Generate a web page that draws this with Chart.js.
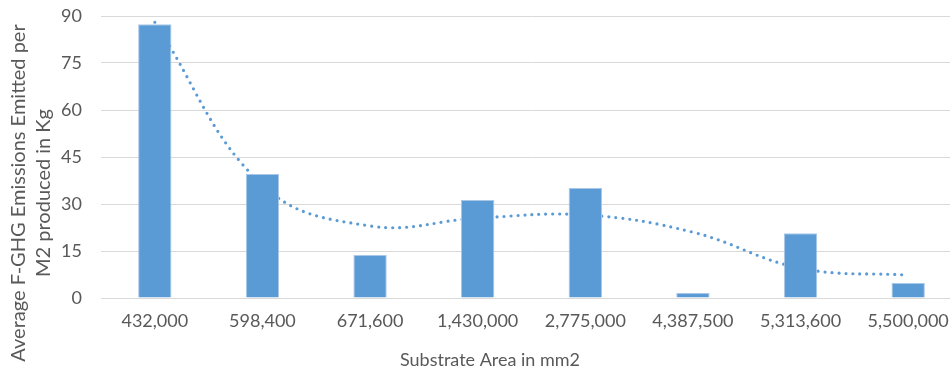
<!DOCTYPE html>
<html>
<head>
<meta charset="utf-8">
<script src="https://cdn.jsdelivr.net/npm/chart.js@4"></script>
<style>
  html, body { margin: 0; padding: 0; background: #fff; overflow: hidden; }
  #wrap { width: 950px; height: 368px; overflow: hidden; }
</style>
</head>
<body>
<div id="wrap"><canvas id="myChart" width="970" height="368"></canvas></div>
<script>
// values
const categories = ['432,000', '598,400', '671,600', '1,430,000', '2,775,000', '4,387,500', '5,313,600', '5,500,000']
const emissions = [87.4, 39.6, 13.7, 31.3, 35.1, 1.6, 20.7, 4.8]
const trend = [88, 36, 23, 25.5, 26.5, 21, 9.5, 7.3]
const yMin = 0
const yMax = 90
const yStep = 15
const xTitle = 'Substrate Area in mm2'
const yTitle = ['Average F-GHG Emissions Emitted per', 'M2 produced in Kg']

const textColor = '#595959'
const barColor = '#5B9BD5'
const gridColor = '#d9d9d9'
const fontFamily = 'Lato, "Open Sans", sans-serif'

// axis titles sit off-centre in the original, so draw them ourselves
const axisTitles = {
    id: 'axisTitles',
    afterDraw(chart) {
        const ctx = chart.ctx
        ctx.save()
        ctx.fillStyle = textColor
        ctx.textAlign = 'center'
        ctx.textBaseline = 'alphabetic'
        ctx.font = '18px ' + fontFamily
        ctx.fillText(xTitle, 490, 366)
        ctx.font = '20px ' + fontFamily
        ctx.translate(0, 193)
        ctx.rotate(-Math.PI / 2)
        ctx.fillText(yTitle[0], 0, 25)
        ctx.fillText(yTitle[1], 0, 50)
        ctx.restore()
    }
}

const chart_data = {
    labels: categories,
    datasets: [{
        type: 'bar',
        data: emissions,
        backgroundColor: barColor,
        borderColor: '#a9c8e8',
        borderWidth: 1,
        barPercentage: 0.31,
        categoryPercentage: 1,
        order: 1
    }, {
        type: 'line',
        data: trend,
        borderColor: barColor,
        borderWidth: 3.2,
        borderDash: [0, 7],
        borderCapStyle: 'round',
        tension: 0.4,
        pointRadius: 0,
        fill: false,
        order: 2
    }]
}

const config = {
    type: 'bar',
    data: chart_data,
    options: {
        responsive: false,
        animation: false,
        devicePixelRatio: 1,
        layout: { padding: { top: 16, right: 8, left: 0, bottom: 0 } },
        plugins: {
            legend: { display: false },
            tooltip: { enabled: false }
        },
        scales: {
            x: {
                grid: { display: false, drawTicks: false },
                border: { display: true, color: gridColor, width: 1 },
                ticks: {
                    color: textColor,
                    font: { family: fontFamily, size: 18 },
                    padding: 12,
                    maxRotation: 0,
                    autoSkip: false
                },
                afterFit: scale => { scale.height = 70 }
            },
            y: {
                min: yMin,
                max: yMax,
                grid: { color: gridColor, drawTicks: false },
                border: { display: false },
                ticks: {
                    stepSize: yStep,
                    color: textColor,
                    font: { family: fontFamily, size: 18 },
                    padding: 19
                },
                afterFit: scale => {
                    scale.width = 101
                    scale.paddingTop = 0
                    scale.paddingBottom = 0
                }
            }
        }
    },
    plugins: [axisTitles]
}

const myChart = new Chart(document.getElementById('myChart'), config)
</script>
</body>
</html>
